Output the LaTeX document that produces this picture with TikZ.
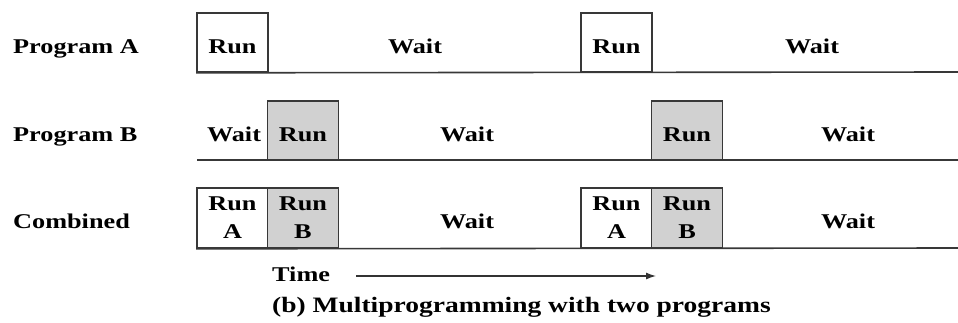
\documentclass[tikz,border=0pt]{standalone}
\usepackage{fontspec}
\setmainfont{Liberation Serif}[FakeStretch=1.25]
\usetikzlibrary{arrows.meta}

\begin{document}
\begin{tikzpicture}[x=1pt, y=-1pt,
            box/.style = {draw=black!78, line width=1.6pt, inner sep=0pt,
                minimum width=71pt, minimum height=59pt,
                font=\fontsize{21}{28}\selectfont\bfseries, text height=21pt, text depth=0pt},
            boxb/.style = {box, fill=black!18},
            cbox/.style = {draw=black!78, line width=1.6pt, inner sep=0pt,
                minimum width=71pt, minimum height=60pt, align=center,
                font=\fontsize{21}{28}\selectfont\bfseries},
            cboxb/.style = {cbox, fill=black!18},
            txt/.style = {anchor=base, inner sep=0pt, font=\fontsize{21}{24}\selectfont\bfseries},
            lbl/.style = {txt, anchor=base west},
            base/.style = {draw=black!78, line width=1.6pt},
            arr/.style = {draw=black!80, line width=1.2pt, -{Latex[length=10pt, width=7pt]}},
        ]
        \useasboundingbox (0,0) rectangle (958,322);

        % program A
        \node (progA) [lbl] at (13,53) {Program A};
        \node (runA1) [box] at (232.5,42.5) {Run};
        \node (runA2) [box] at (616.5,42.5) {Run};
        \node (waitA1) [txt] at (415,53) {Wait};
        \node (waitA2) [txt] at (812,53) {Wait};
        \coordinate (endA) at (958,72);
        \path[base] (runA1.south west) -- (endA);

        % program B
        \node (progB) [lbl] at (13,141) {Program B};
        \node (runB1) [boxb] at (303,130.5) {Run};
        \node (runB2) [boxb] at (687,130.5) {Run};
        \node (waitB0) [txt] at (234,141) {Wait};
        \node (waitB1) [txt] at (467,141) {Wait};
        \node (waitB2) [txt] at (848,141) {Wait};
        \coordinate (startB) at (197,160);
        \coordinate (endB) at (958,160);
        \path[base] (startB) -- (endB);

        % combined
        \node (comb) [lbl] at (13,228) {Combined};
        \node (cmbA1) [cbox] at (232.5,218) {Run\\A};
        \node (cmbB1) [cboxb] at (303,218) {Run\\B};
        \node (cmbA2) [cbox] at (616.5,218) {Run\\A};
        \node (cmbB2) [cboxb] at (687,218) {Run\\B};
        \node (waitC1) [txt] at (467,228) {Wait};
        \node (waitC2) [txt] at (848,228) {Wait};
        \coordinate (endC) at (958,248);
        \path[base] (cmbA1.south west) -- (endC);

        % time axis and caption
        \node (time) [lbl] at (272,281.5) {Time};
        \coordinate (tEnd) at (656,276);
        \path[arr] (time.east |- tEnd) ++(26,0) -- (tEnd);
        \node (caption) [lbl, font=\fontsize{22}{24}\selectfont\bfseries] at (272,312)
            {(b) Multiprogramming with two programs};
    \end{tikzpicture}
\end{document}
